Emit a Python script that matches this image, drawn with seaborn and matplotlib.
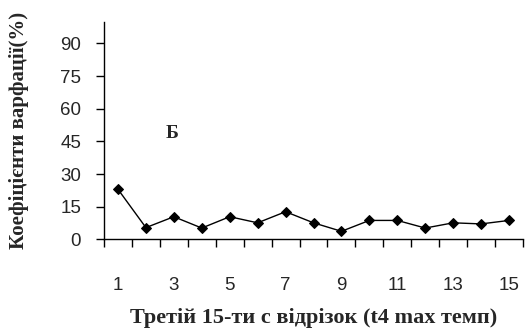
import matplotlib
matplotlib.use("Agg")
import matplotlib.pyplot as plt
import seaborn as sns
import pandas as pd
import numpy as np

segments = list(range(1, 16))
cv_values = [23, 5.4, 10.4, 5.2, 10.4, 7.6, 12.7, 7.6, 3.7, 8.7, 8.7, 5.2, 7.6, 7.1, 8.7]
y_ticks = [0, 15, 30, 45, 60, 75, 90]
x_ticklabels = ["1", "", "3", "", "5", "", "7", "", "9", "", "11", "", "13", "", "15"]

sns.set_style("white")
plt.rcParams["font.family"] = ["Liberation Serif", "DejaVu Serif"]

fig = plt.figure(figsize=(5.29, 3.32), dpi=100)
ax = fig.add_axes([0.1966, 0.279, 0.7921, 0.656])

df = pd.DataFrame({"seg": np.arange(len(segments)), "cv": cv_values})
sns.lineplot(data=df, x="seg", y="cv", ax=ax, color="black", linewidth=1.0,
             marker="D", markersize=5.5, markeredgecolor="black", markerfacecolor="black")

narrow = ["Liberation Sans Narrow", "Liberation Sans", "DejaVu Sans"]
ax.set_xlim(-0.5, len(segments) - 0.5)
ax.set_ylim(0, 100)
ax.set_yticks(y_ticks)
ax.set_yticklabels([str(v) for v in y_ticks], family=narrow, fontsize=13.5)

ax.set_xticks(np.arange(len(segments)))
ax.set_xticklabels(x_ticklabels, family=narrow, fontsize=13.5)
ax.tick_params(axis="x", which="major", bottom=True, length=0, pad=27)
ax.set_xticks(np.arange(-0.5, len(segments)), minor=True)
ax.tick_params(axis="x", which="minor", bottom=True, length=5.5, width=1, color="black", direction="out")
ax.tick_params(axis="y", left=True, length=5.5, width=1, color="black", direction="out", pad=11)

for s in ["top", "right"]:
    ax.spines[s].set_visible(False)
for s in ["left", "bottom"]:
    ax.spines[s].set_color("black")
    ax.spines[s].set_linewidth(1)

ax.set_xlabel("Третій 15-ти с відрізок (t4 max темп)", fontsize=16, fontweight="bold")
ax.set_ylabel("Коефіцієнти варфації(%)", fontsize=15, fontweight="bold")
ax.xaxis.set_label_coords(0.5, -0.315)
ax.yaxis.set_label_coords(-0.18, 0.5)
ax.text(1.93, 48.8, "Б", fontsize=14, fontweight="bold", ha="center", va="center")

fig.savefig("out.png", dpi=100)
